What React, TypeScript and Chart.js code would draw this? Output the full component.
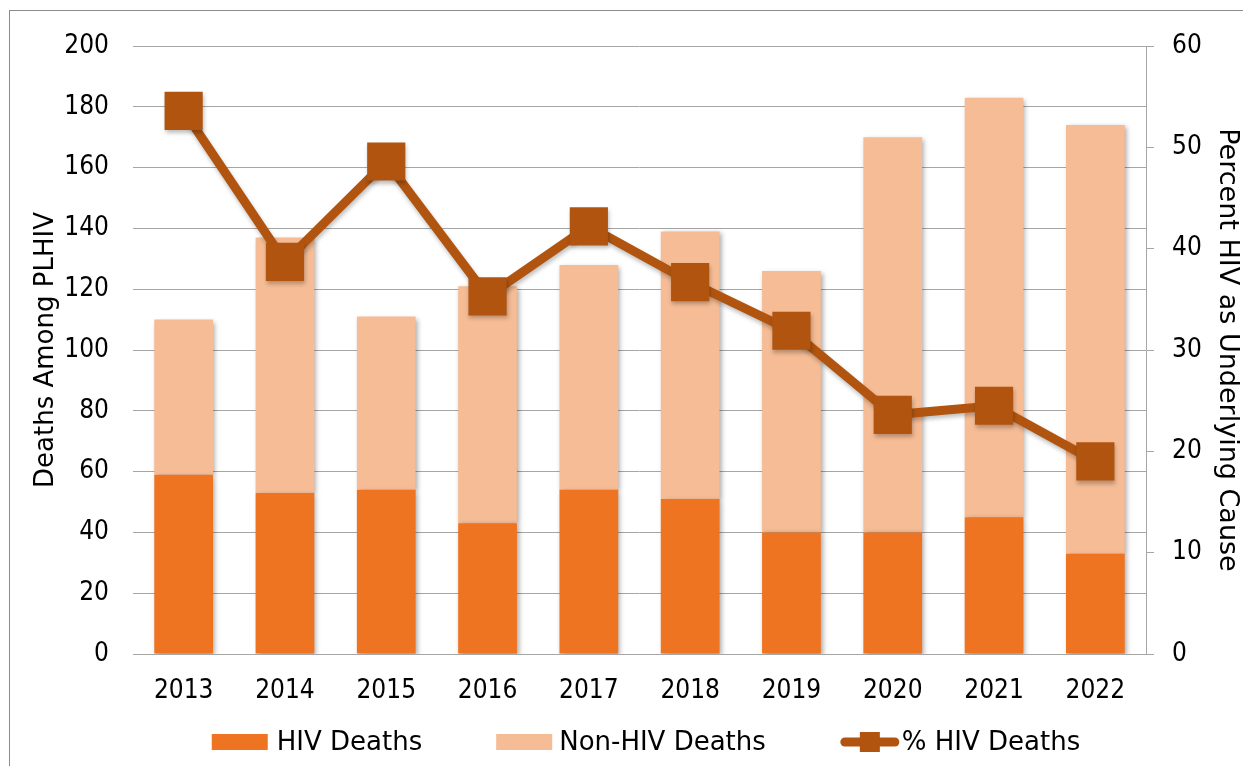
import React, { useEffect, useRef } from 'react';
import { Chart, registerables } from 'chart.js';

Chart.register(...registerables);

const years = ['2013', '2014', '2015', '2016', '2017', '2018', '2019', '2020', '2021', '2022'];
const hivDeaths = [59, 53, 54, 43, 54, 51, 40, 40, 45, 33];
const nonHivDeaths = [51, 84, 57, 78, 74, 88, 86, 130, 138, 141];
const pctHivDeaths = [53.6, 38.7, 48.6, 35.3, 42.2, 36.7, 31.9, 23.6, 24.5, 19.0];

const HIV_COLOR = '#EF7421';
const NON_HIV_COLOR = '#F5BC95';
const LINE_COLOR = '#B1540F';
const GRID = '#A6A6A6';
const TEXT = '#000000';
const FONT = 'DejaVu Sans';
const TICK_FONT = 'DejaVu Sans Condensed';

const shadowPlugin = {
  id: 'shadow',
  beforeDatasetDraw(chart: any, args: any) {
    const ctx = chart.ctx;
    ctx.save();
    if (args.meta.type === 'bar') {
      ctx.shadowColor = 'rgba(0,0,0,0.35)';
      ctx.shadowBlur = 5;
      ctx.shadowOffsetX = 2;
      ctx.shadowOffsetY = 2;
    } else {
      ctx.shadowColor = 'rgba(0,0,0,0.25)';
      ctx.shadowBlur = 4;
      ctx.shadowOffsetX = 1;
      ctx.shadowOffsetY = 3;
    }
  },
  afterDatasetDraw(chart: any) {
    chart.ctx.restore();
  },
};

const legendPlugin = {
  id: 'customLegend',
  afterDraw(chart: any) {
    const ctx = chart.ctx;
    const ds = chart.data.datasets;
    ctx.save();
    ctx.font = `26px "${FONT}"`;
    const specs = [
      { marker: 56, gap: 9 },
      { marker: 56, gap: 7 },
      { marker: 60, gap: 2 },
    ];
    const itemGap = 74;
    const widths = ds.map((d: any, i: number) => specs[i].marker + specs[i].gap + ctx.measureText(d.label).width);
    const total = widths.reduce((a: number, b: number) => a + b, 0) + itemGap * (ds.length - 1);
    let x = 646 - total / 2;
    const cy = 742;
    ds.forEach((d: any, i: number) => {
      const s = specs[i];
      if (d.type === 'line') {
        ctx.strokeStyle = d.borderColor;
        ctx.lineWidth = 9;
        ctx.lineCap = 'round';
        ctx.beginPath();
        ctx.moveTo(x + 5, cy);
        ctx.lineTo(x + s.marker - 5, cy);
        ctx.stroke();
        ctx.fillStyle = d.borderColor;
        ctx.fillRect(x + s.marker / 2 - 10, cy - 10, 20, 20);
      } else {
        ctx.fillStyle = d.backgroundColor;
        ctx.fillRect(x, cy - 8, s.marker, 16);
      }
      ctx.fillStyle = TEXT;
      ctx.textBaseline = 'middle';
      ctx.textAlign = 'left';
      ctx.fillText(d.label, x + s.marker + s.gap, cy + 1);
      x += widths[i] + itemGap;
    });
    ctx.restore();
  },
};

export default function App() {
  const ref = useRef<HTMLCanvasElement>(null);
  useEffect(() => {
    const tickFont = { family: TICK_FONT, size: 26 };
    const chart = new Chart(ref.current as HTMLCanvasElement, {
      type: 'bar',
      data: {
        labels: years,
        datasets: [
          {
            type: 'bar',
            label: 'HIV Deaths',
            data: hivDeaths,
            backgroundColor: HIV_COLOR,
            yAxisID: 'y',
            stack: 'deaths',
            order: 1,
            barPercentage: 0.58,
            categoryPercentage: 1,
          },
          {
            type: 'bar',
            label: 'Non-HIV Deaths',
            data: nonHivDeaths,
            backgroundColor: NON_HIV_COLOR,
            yAxisID: 'y',
            stack: 'deaths',
            order: 2,
            barPercentage: 0.58,
            categoryPercentage: 1,
          },
          {
            type: 'line',
            label: '% HIV Deaths',
            data: pctHivDeaths,
            yAxisID: 'y1',
            borderColor: LINE_COLOR,
            backgroundColor: LINE_COLOR,
            borderWidth: 9,
            pointStyle: 'rect',
            pointRadius: 27,
            pointBorderWidth: 0,
            pointBackgroundColor: LINE_COLOR,
            tension: 0,
            order: 0,
          },
        ] as any,
      },
      options: {
        animation: false,
        responsive: false,
        maintainAspectRatio: false,
        layout: { padding: { top: 46, bottom: 52, left: 0, right: 0 } },
        plugins: { legend: { display: false }, tooltip: { enabled: false } },
        scales: {
          x: {
            stacked: true,
            grid: { display: false, drawTicks: false },
            border: { display: true, color: GRID, width: 1 },
            ticks: { color: TEXT, font: tickFont, padding: 22, maxRotation: 0, autoSkip: false },
            afterFit(s: any) { s.height = 60; },
          },
          y: {
            stacked: true,
            position: 'left',
            min: 0,
            max: 200,
            ticks: { stepSize: 20, padding: 24, color: TEXT, font: tickFont },
            grid: { color: GRID, drawTicks: false, lineWidth: 1 },
            border: { display: false },
            title: { display: true, text: 'Deaths Among PLHIV', color: TEXT, font: { family: FONT, size: 26 }, padding: { top: 31, bottom: 0 } },
            afterFit(s: any) { s.width = 133; },
          },
          y1: {
            position: 'right',
            min: 0,
            max: 60,
            ticks: { stepSize: 10, padding: 18, color: TEXT, font: tickFont },
            grid: { drawOnChartArea: false, drawTicks: true, tickLength: 8, color: GRID },
            border: { display: true, color: GRID },
            title: { display: true, text: 'Percent HIV as Underlying Cause', color: TEXT, font: { family: FONT, size: 27 }, padding: { top: 0, bottom: 0 } },
            afterFit(s: any) { s.width = 97; },
          },
        },
      } as any,
      plugins: [shadowPlugin, legendPlugin],
    });
    return () => chart.destroy();
  }, []);

  return (
    <div style={{ position: 'fixed', left: 0, top: 0, width: 1243, height: 766, overflow: 'hidden', background: '#fff' }}>
      <div style={{ position: 'absolute', left: 9, top: 10, width: 1260, height: 800, border: '1px solid #8C8C8C', boxSizing: 'border-box' }} />
      <canvas ref={ref} width={1243} height={766} style={{ position: 'absolute', left: 0, top: 0, width: 1243, height: 766 }} />
    </div>
  );
}
